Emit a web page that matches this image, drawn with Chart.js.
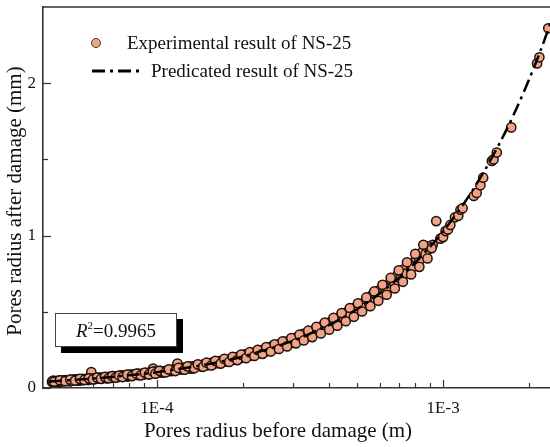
<!DOCTYPE html>
<html>
<head>
<meta charset="utf-8">
<script src="https://cdn.jsdelivr.net/npm/chart.js@4.4.1/dist/chart.umd.min.js"></script>
<style>
  html, body { margin: 0; padding: 0; background: #fff; overflow: hidden; }
  #wrap { width: 550px; height: 447px; overflow: hidden; position: relative; }
  canvas { display: block; }
</style>
</head>
<body>
<div id="wrap"><canvas id="poreChart" width="570" height="447"></canvas></div>
<script>
// pore radius before damage (m) / after damage (mm)
const poreBefore = [
  4.3e-5, 4.35e-5, 4.4e-5, 4.5e-5, 4.55e-5, 4.6e-5, 4.7e-5, 4.75e-5, 4.8e-5, 4.9e-5, 4.95e-5,
  5.0e-5, 5.1e-5, 5.15e-5, 5.2e-5, 5.3e-5, 5.35e-5, 5.4e-5, 5.5e-5, 5.55e-5, 5.6e-5, 5.7e-5,
  5.75e-5, 5.8e-5, 5.9e-5, 6.0e-5, 6.05e-5, 6.1e-5, 6.2e-5, 6.3e-5, 6.4e-5, 6.5e-5, 6.6e-5,
  6.7e-5, 6.8e-5, 6.9e-5, 7.0e-5, 7.1e-5, 7.2e-5, 7.3e-5, 7.4e-5, 7.5e-5, 7.6e-5, 7.8e-5,
  7.9e-5, 8.0e-5, 8.1e-5, 8.2e-5, 8.3e-5, 8.5e-5, 8.6e-5, 8.7e-5, 8.9e-5, 9.0e-5, 9.1e-5,
  9.3e-5, 9.4e-5, 9.5e-5, 9.7e-5, 9.8e-5, 9.9e-5,
  1.00e-4, 1.03e-4, 1.04e-4, 1.06e-4, 1.09e-4, 1.12e-4, 1.13e-4, 1.15e-4, 1.18e-4, 1.21e-4,
  1.22e-4, 1.24e-4, 1.27e-4, 1.30e-4, 1.32e-4, 1.34e-4, 1.38e-4, 1.42e-4, 1.44e-4, 1.46e-4,
  1.50e-4, 1.54e-4, 1.56e-4, 1.58e-4, 1.62e-4, 1.66e-4, 1.68e-4, 1.70e-4, 1.75e-4, 1.78e-4,
  1.80e-4, 1.85e-4, 1.90e-4, 1.92e-4, 1.95e-4, 2.00e-4, 2.03e-4, 2.06e-4, 2.12e-4, 2.15e-4,
  2.18e-4, 2.24e-4, 2.27e-4, 2.30e-4, 2.36e-4, 2.39e-4, 2.42e-4, 2.48e-4, 2.52e-4, 2.55e-4,
  2.62e-4, 2.66e-4, 2.69e-4, 2.76e-4, 2.80e-4, 2.83e-4, 2.90e-4, 2.94e-4, 2.97e-4,
  3.05e-4, 3.12e-4, 3.16e-4, 3.20e-4, 3.28e-4, 3.36e-4, 3.40e-4, 3.45e-4, 3.54e-4, 3.63e-4,
  3.68e-4, 3.72e-4, 3.82e-4, 3.92e-4, 3.97e-4, 4.02e-4, 4.12e-4, 4.23e-4, 4.28e-4, 4.34e-4,
  4.45e-4, 4.56e-4, 4.62e-4, 4.68e-4, 4.80e-4, 4.92e-4, 4.98e-4, 5.05e-4, 5.18e-4, 5.31e-4,
  5.38e-4, 5.45e-4, 5.59e-4, 5.66e-4, 5.73e-4, 5.80e-4, 5.88e-4, 6.03e-4, 6.18e-4, 6.26e-4,
  6.34e-4, 6.50e-4, 6.67e-4, 6.75e-4, 6.84e-4, 7.01e-4, 7.19e-4, 7.28e-4, 7.37e-4, 7.56e-4,
  7.75e-4, 7.85e-4, 7.95e-4, 8.15e-4, 8.36e-4, 8.47e-4, 8.57e-4, 8.79e-4, 8.90e-4, 9.01e-4,
  9.20e-4, 9.46e-4, 9.78e-4,
  1.00e-3, 1.02e-3, 1.04e-3, 1.06e-3, 1.10e-3, 1.13e-3, 1.15e-3, 1.17e-3, 1.28e-3, 1.31e-3,
  1.35e-3, 1.38e-3, 1.48e-3, 1.50e-3, 1.54e-3, 1.73e-3, 2.13e-3, 2.17e-3, 2.33e-3,
  4.32e-5, 4.42e-5, 4.52e-5, 4.62e-5, 4.72e-5, 4.82e-5, 4.92e-5, 5.02e-5, 5.12e-5, 5.22e-5,
  5.32e-5, 5.42e-5, 5.52e-5, 5.62e-5, 5.72e-5, 5.82e-5, 5.92e-5, 6.02e-5, 6.15e-5, 6.25e-5,
  6.35e-5, 6.45e-5, 6.55e-5, 6.65e-5, 6.75e-5, 6.85e-5, 6.95e-5, 7.05e-5, 7.15e-5, 7.25e-5,
  7.45e-5, 7.55e-5, 7.65e-5, 7.75e-5, 7.95e-5, 8.05e-5, 8.25e-5, 8.45e-5, 8.55e-5, 8.75e-5,
  8.95e-5, 9.15e-5, 9.35e-5, 9.55e-5, 9.75e-5, 9.95e-5,
  1.01e-4, 1.05e-4, 1.08e-4, 1.11e-4, 1.14e-4, 1.17e-4, 1.20e-4, 1.23e-4, 1.26e-4, 1.29e-4,
  1.33e-4, 1.36e-4, 1.40e-4, 1.43e-4, 1.48e-4, 1.52e-4, 1.57e-4, 1.61e-4, 1.65e-4, 1.69e-4,
  1.73e-4, 1.77e-4, 1.83e-4, 1.88e-4, 1.93e-4, 1.98e-4, 2.04e-4, 2.09e-4, 2.14e-4, 2.21e-4,
  2.26e-4, 2.33e-4, 2.40e-4, 2.46e-4, 2.53e-4, 2.59e-4, 2.65e-4, 2.73e-4, 2.79e-4, 2.87e-4,
  2.93e-4, 3.00e-4, 3.09e-4, 3.18e-4, 3.25e-4, 3.33e-4, 3.42e-4, 3.50e-4, 3.59e-4, 3.67e-4,
  3.77e-4, 3.87e-4, 3.95e-4, 4.07e-4, 4.18e-4, 4.30e-4, 4.40e-4, 4.51e-4, 4.63e-4, 4.74e-4,
  4.86e-4, 4.99e-4, 5.11e-4, 5.25e-4, 5.38e-4, 5.52e-4, 5.66e-4, 5.80e-4, 5.96e-4, 6.10e-4,
  6.26e-4, 6.42e-4, 6.58e-4, 6.76e-4, 6.93e-4, 7.10e-4, 7.28e-4, 7.46e-4, 7.65e-4, 7.85e-4,
  8.05e-4, 8.25e-4, 8.46e-4, 8.68e-4, 8.90e-4, 9.12e-4,
  4.38e-5, 4.58e-5, 4.78e-5, 4.98e-5, 5.18e-5, 5.38e-5, 5.58e-5, 5.78e-5, 5.98e-5, 6.18e-5,
  6.38e-5, 6.58e-5, 6.78e-5, 6.98e-5, 7.18e-5, 7.38e-5, 7.58e-5, 7.88e-5, 8.18e-5, 8.48e-5,
  8.78e-5, 9.08e-5, 9.38e-5, 9.68e-5, 9.88e-5,
  1.02e-4, 1.07e-4, 1.10e-4, 1.16e-4, 1.19e-4, 1.25e-4, 1.28e-4, 1.35e-4, 1.39e-4, 1.45e-4,
  1.49e-4, 1.55e-4, 1.60e-4, 1.67e-4, 1.72e-4, 1.79e-4, 1.84e-4, 1.91e-4, 1.97e-4, 2.05e-4,
  2.11e-4, 2.19e-4, 2.25e-4, 2.34e-4, 2.41e-4, 2.50e-4, 2.58e-4, 2.67e-4, 2.75e-4, 2.85e-4,
  2.95e-4, 3.06e-4, 3.15e-4, 3.26e-4, 3.38e-4, 3.49e-4, 3.61e-4, 3.74e-4, 3.86e-4, 4.00e-4,
  4.14e-4, 4.27e-4, 4.42e-4, 4.57e-4, 4.72e-4, 4.88e-4,
  5.04e-4, 5.21e-4, 5.39e-4, 5.57e-4, 5.75e-4, 5.94e-4, 6.14e-4, 6.35e-4, 6.56e-4, 6.78e-4,
  7.00e-4, 7.24e-4, 7.48e-4, 7.73e-4, 7.99e-4, 8.26e-4, 8.53e-4, 8.82e-4
];
const poreAfter = [
  0.040, 0.049, 0.046, 0.044, 0.039, 0.050, 0.043, 0.051, 0.052, 0.047, 0.044,
  0.055, 0.049, 0.056, 0.053, 0.058, 0.048, 0.051, 0.060, 0.053, 0.054, 0.062,
  0.052, 0.057, 0.105, 0.064, 0.058, 0.059, 0.066, 0.068, 0.061, 0.070, 0.067,
  0.063, 0.073, 0.066, 0.078, 0.069, 0.074, 0.071, 0.079, 0.081, 0.077, 0.084,
  0.075, 0.079, 0.088, 0.083, 0.085, 0.091, 0.094, 0.086, 0.095, 0.088, 0.092,
  0.099, 0.090, 0.094, 0.128, 0.108, 0.103,
  0.098, 0.112, 0.101, 0.104, 0.118, 0.110, 0.119, 0.124, 0.160, 0.121,
  0.130, 0.133, 0.126, 0.140, 0.127, 0.134, 0.147, 0.141, 0.152, 0.156,
  0.149, 0.163, 0.152, 0.157, 0.172, 0.165, 0.177, 0.180, 0.173, 0.178,
  0.190, 0.184, 0.201, 0.193, 0.194, 0.212, 0.220, 0.205, 0.226, 0.213,
  0.218, 0.236, 0.240, 0.229, 0.250, 0.238, 0.243, 0.262, 0.268, 0.256,
  0.278, 0.268, 0.270, 0.292, 0.296, 0.285, 0.306, 0.295, 0.300,
  0.318, 0.325, 0.339, 0.328, 0.342, 0.346, 0.347, 0.360, 0.362, 0.379,
  0.388, 0.381, 0.399, 0.401, 0.405, 0.430, 0.423, 0.441, 0.450, 0.444,
  0.466, 0.468, 0.470, 0.490, 0.491, 0.513, 0.520, 0.516, 0.540, 0.543,
  0.560, 0.568, 0.572, 0.595, 0.600, 0.592, 0.603, 0.630, 0.633, 0.655,
  0.662, 0.665, 0.695, 0.694, 0.700, 0.728, 0.738, 0.755, 0.762, 0.775,
  0.800, 0.808, 0.815, 0.825, 0.858, 0.870, 0.885, 0.900, 0.915, 0.925,
  0.940, 1.095, 0.980,
  0.990, 1.030, 1.040, 1.070, 1.120, 1.130, 1.170, 1.180, 1.260, 1.280,
  1.330, 1.380, 1.490, 1.500, 1.545, 1.710, 2.130, 2.170, 2.360,
  0.045, 0.041, 0.048, 0.045, 0.049, 0.046, 0.051, 0.050, 0.053, 0.049,
  0.054, 0.056, 0.052, 0.058, 0.057, 0.061, 0.058, 0.061, 0.063, 0.062,
  0.066, 0.064, 0.068, 0.072, 0.069, 0.070, 0.074, 0.073, 0.077, 0.076,
  0.075, 0.083, 0.080, 0.079, 0.086, 0.084, 0.089, 0.087, 0.085, 0.092,
  0.090, 0.097, 0.095, 0.101, 0.099, 0.108,
  0.106, 0.109, 0.107, 0.115, 0.114, 0.121, 0.126, 0.124, 0.135, 0.131,
  0.142, 0.139, 0.151, 0.145, 0.159, 0.155, 0.168, 0.163, 0.176, 0.170,
  0.186, 0.182, 0.195, 0.188, 0.206, 0.200, 0.218, 0.211, 0.232, 0.226,
  0.248, 0.237, 0.258, 0.250, 0.276, 0.265, 0.285, 0.280, 0.305, 0.290,
  0.315, 0.308, 0.335, 0.320, 0.355, 0.338, 0.372, 0.355, 0.388, 0.372,
  0.405, 0.392, 0.425, 0.412, 0.452, 0.434, 0.475, 0.455, 0.500, 0.478,
  0.525, 0.505, 0.552, 0.528, 0.582, 0.555, 0.612, 0.585, 0.640, 0.615,
  0.672, 0.648, 0.708, 0.682, 0.742, 0.718, 0.778, 0.752, 0.815, 0.795,
  0.852, 0.835, 0.892, 0.878, 0.930, 0.918,
  0.041, 0.051, 0.045, 0.055, 0.049, 0.060, 0.053, 0.064, 0.057, 0.069,
  0.060, 0.073, 0.064, 0.078, 0.068, 0.082, 0.072, 0.088, 0.078, 0.094,
  0.083, 0.101, 0.089, 0.108, 0.094,
  0.113, 0.102, 0.122, 0.111, 0.132, 0.120, 0.142, 0.129, 0.155, 0.139,
  0.166, 0.148, 0.178, 0.160, 0.191, 0.171, 0.205, 0.183, 0.219, 0.196,
  0.235, 0.210, 0.250, 0.224, 0.268, 0.239, 0.287, 0.256, 0.306, 0.273,
  0.328, 0.293, 0.350, 0.312, 0.376, 0.334, 0.402, 0.358, 0.429, 0.383,
  0.460, 0.409, 0.492, 0.438, 0.525, 0.467,
  0.556, 0.502, 0.594, 0.537, 0.634, 0.572, 0.677, 0.612, 0.723, 0.653,
  0.772, 0.697, 0.825, 0.745, 0.880, 0.795, 0.940, 0.850
];

// fitted curve
const fitBefore = [4.2e-5, 6e-5, 8e-5, 1e-4, 1.5e-4, 2e-4, 3e-4, 4e-4, 5e-4, 6e-4, 7e-4,
  8e-4, 9e-4, 1e-3, 1.2e-3, 1.4e-3, 1.6e-3, 1.8e-3, 2.0e-3, 2.2e-3, 2.37e-3];
const fitAfter = [0.043, 0.062, 0.083, 0.104, 0.156, 0.207, 0.311, 0.414, 0.517, 0.620, 0.722,
  0.824, 0.926, 1.027, 1.229, 1.430, 1.630, 1.829, 2.027, 2.224, 2.392];

const xTickValues = [5e-5, 6e-5, 7e-5, 8e-5, 9e-5, 1e-4, 2e-4, 3e-4, 4e-4, 5e-4, 6e-4, 7e-4,
  8e-4, 9e-4, 1e-3, 2e-3];
const xTickLabels = { '0.0001': '1E-4', '0.001': '1E-3' };
const yTickValues = [0, 0.5, 1, 1.5, 2];
const yTickLabels = { '0': '0', '1': '1', '2': '2' };

const serif = "'Liberation Serif', 'Times New Roman', serif";
const axisColor = '#333';

const isMajor = v => Math.abs(Math.log10(v) - Math.round(Math.log10(v))) < 1e-6;

// inward ticks, top frame, legend, R^2 box, axis titles
const decorPlugin = {
  id: 'decor',
  afterDatasetsDraw(chart) {
    const ctx = chart.ctx;
    const { left, right, top, bottom } = chart.chartArea;
    const xs = chart.scales.x, ys = chart.scales.y;
    ctx.save();
    ctx.strokeStyle = axisColor;
    ctx.lineWidth = 1.2;
    xTickValues.forEach(v => {
      const px = Math.round(xs.getPixelForValue(v)) + 0.5;
      const len = isMajor(v) ? 8 : 5;
      ctx.beginPath(); ctx.moveTo(px, bottom); ctx.lineTo(px, bottom - len); ctx.stroke();
    });
    yTickValues.forEach(v => {
      const py = Math.round(ys.getPixelForValue(v)) + 0.5;
      const len = Number.isInteger(v) ? 8 : 5;
      ctx.beginPath(); ctx.moveTo(left, py); ctx.lineTo(left + len, py); ctx.stroke();
    });
    ctx.lineWidth = 1.6;
    ctx.beginPath(); ctx.moveTo(left, top); ctx.lineTo(right, top); ctx.stroke();
    ctx.restore();
  },
  afterDraw(chart) {
    const ctx = chart.ctx;
    ctx.save();
    ctx.fillStyle = '#111';

    // axis titles
    ctx.font = '21px ' + serif;
    ctx.textAlign = 'center';
    ctx.textBaseline = 'alphabetic';
    ctx.fillText('Pores radius before damage (m)', 278, 437);
    ctx.save();
    ctx.translate(21, 201);
    ctx.rotate(-Math.PI / 2);
    ctx.fillText('Pores radius after damage (mm)', 0, 0);
    ctx.restore();

    // legend
    ctx.textAlign = 'left';
    ctx.font = '19px ' + serif;
    ctx.beginPath();
    ctx.arc(96, 43, 4.5, 0, Math.PI * 2);
    ctx.fillStyle = '#F2A285';
    ctx.fill();
    ctx.strokeStyle = '#4a3328';
    ctx.lineWidth = 1;
    ctx.stroke();
    ctx.fillStyle = '#111';
    ctx.fillText('Experimental result of NS-25', 127, 49);

    ctx.strokeStyle = '#000';
    ctx.lineWidth = 3;
    ctx.setLineDash([13, 5, 3, 5]);
    ctx.beginPath(); ctx.moveTo(92, 71); ctx.lineTo(142, 71); ctx.stroke();
    ctx.setLineDash([]);
    ctx.fillText('Predicated result of NS-25', 151, 77);

    // R^2 box with shadow
    ctx.fillStyle = '#000';
    ctx.fillRect(61, 319, 122, 34);
    ctx.fillStyle = '#fff';
    ctx.fillRect(55, 313, 122, 34);
    ctx.strokeStyle = '#444';
    ctx.lineWidth = 1;
    ctx.strokeRect(55.5, 313.5, 121, 33);

    ctx.fillStyle = '#111';
    ctx.font = 'italic 19px ' + serif;
    const wR = ctx.measureText('R').width;
    ctx.font = '11px ' + serif;
    const w2 = ctx.measureText('2').width;
    ctx.font = '19px ' + serif;
    const wRest = ctx.measureText('=0.9965').width;
    let tx = 116 - (wR + w2 + wRest) / 2;
    const base = 337;
    ctx.font = 'italic 19px ' + serif;
    ctx.fillText('R', tx, base); tx += wR;
    ctx.font = '11px ' + serif;
    ctx.fillText('2', tx, base - 8); tx += w2;
    ctx.font = '19px ' + serif;
    ctx.fillText('=0.9965', tx, base);
    ctx.restore();
  }
};

const ctx = document.getElementById('poreChart').getContext('2d');
new Chart(ctx, {
  type: 'scatter',
  data: {
    datasets: [
      {
        label: 'Predicated result of NS-25',
        data: fitBefore.map((x, i) => ({ x: x, y: fitAfter[i] })),
        showLine: true,
        borderColor: '#000',
        borderWidth: 2.5,
        borderDash: [13, 5, 3, 5],
        pointRadius: 0,
        tension: 0.3,
        order: 0
      },
      {
        label: 'Experimental result of NS-25',
        data: poreBefore.map((x, i) => ({ x: x, y: poreAfter[i] })),
        backgroundColor: '#F2A285',
        borderColor: '#1e120c',
        borderWidth: 1.5,
        pointRadius: 4.6,
        order: 1
      }
    ]
  },
  options: {
    responsive: false,
    animation: false,
    layout: { padding: { left: 0, top: 7, right: 13, bottom: 0 } },
    plugins: { legend: { display: false }, tooltip: { enabled: false } },
    scales: {
      x: {
        type: 'logarithmic',
        min: 4e-5,
        max: 2.5e-3,
        afterBuildTicks: s => { s.ticks = xTickValues.map(v => ({ value: v })); },
        afterFit: s => { s.height = 59; s.paddingLeft = 0; s.paddingRight = 0; },
        grid: { display: false, drawTicks: false },
        border: { display: true, color: axisColor, width: 1.6 },
        ticks: {
          autoSkip: false,
          maxRotation: 0,
          padding: 10,
          color: '#111',
          font: { family: serif, size: 17 },
          callback: v => xTickLabels[String(v)] || ''
        }
      },
      y: {
        min: 0,
        max: 2.5,
        afterBuildTicks: s => { s.ticks = yTickValues.map(v => ({ value: v })); },
        afterFit: s => { s.width = 43; s.paddingTop = 0; s.paddingBottom = 0; },
        grid: { display: false, drawTicks: false },
        border: { display: true, color: axisColor, width: 1.6 },
        ticks: {
          padding: 7,
          color: '#111',
          font: { family: serif, size: 17 },
          callback: v => yTickLabels[String(v)] || ''
        }
      }
    }
  },
  plugins: [decorPlugin]
});
</script>
</body>
</html>
